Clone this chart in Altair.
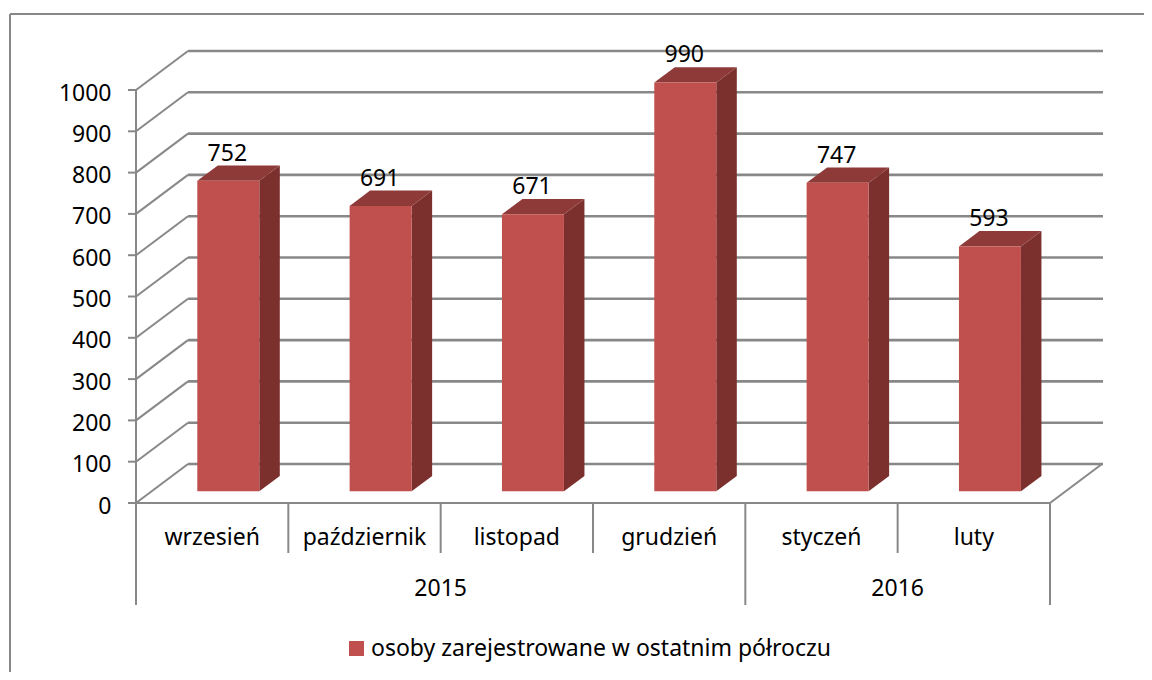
import altair as alt
import pandas as pd

months = ["wrzesień", "październik", "listopad", "grudzień", "styczeń", "luty"]
values = [752, 691, 671, 990, 747, 593]
years = ["2015", "2016"]
year_spans = [(0, 4), (4, 6)]
ticks = list(range(0, 1001, 100))
series_name = "osoby zarejestrowane w ostatnim półroczu"

FONT = "Noto Sans"
FS = 23
GRID = "#888888"
FRONT = "#C0504D"
TOP = "#8E3A38"
SIDE = "#7B302E"

# Geometry in data units: one category = 1 on x, one value unit on y
PX_X = 152.33
PX_Y = 0.413
X0 = 136
Y0 = 503
W, H = 1136, 664
ux = lambda px: (px - X0) / PX_X
uy = lambda px: (Y0 - px) / PX_Y
x_dom = [ux(8), ux(8 + W)]
y_dom = [uy(8 + H), uy(8)]
xs = alt.Scale(domain=x_dom, nice=False, zero=False)
ys = alt.Scale(domain=y_dom, nice=False, zero=False)

wall_dx = 52 / PX_X
wall_dy = 39 / PX_Y
bar_left = 61.3 / PX_X
bar_w = 62 / PX_X
bar_base = 11.7 / PX_Y
bar_dx = 20.5 / PX_X
bar_dy = 15.3 / PX_Y
n = len(months)

# back wall grid lines
wall = pd.DataFrame([
    dict(x=wall_dx, x2=n + wall_dx + 1 / PX_X, y=t + wall_dy, y2=t + wall_dy) for t in ticks
])

# side wall, floor and axis lines
segs = []
for t in ticks:
    segs.append(dict(x=0, x2=wall_dx, y=t, y2=t + wall_dy))
segs.append(dict(x=n, x2=n + wall_dx, y=0, y2=wall_dy))
segs.append(dict(x=0, x2=n, y=0, y2=0))
segs.append(dict(x=0, x2=0, y=0, y2=1000))
for t in ticks:
    segs.append(dict(x=ux(128), x2=0, y=t, y2=t))
for i in range(1, n):
    if i != year_spans[1][0]:
        segs.append(dict(x=i, x2=i, y=0, y2=uy(553)))
for i in (0, year_spans[1][0], n):
    segs.append(dict(x=i, x2=i, y=0, y2=uy(605)))
segs_df = pd.DataFrame(segs)

frame_df = pd.DataFrame([
    dict(x=ux(10), x2=x_dom[1], y=uy(14), y2=uy(14)),
    dict(x=ux(10), x2=ux(10), y=uy(14), y2=y_dom[0]),
])

front = pd.DataFrame([
    dict(month=m, series=series_name, x=i + bar_left, x2=i + bar_left + bar_w,
         y=bar_base, y2=v + bar_base)
    for i, (m, v) in enumerate(zip(months, values))
])
side = pd.DataFrame([
    row for i, (m, v) in enumerate(zip(months, values)) for row in (
        dict(month=m, x=i + bar_left + bar_w, y=bar_base, y2=v + bar_base),
        dict(month=m, x=i + bar_left + bar_w + bar_dx, y=bar_base + bar_dy, y2=v + bar_base + bar_dy),
    )
])
top = pd.DataFrame([
    row for i, (m, v) in enumerate(zip(months, values)) for row in (
        dict(month=m, y=v + bar_base, x=i + bar_left, x2=i + bar_left + bar_w),
        dict(month=m, y=v + bar_base + bar_dy, x=i + bar_left + bar_dx, x2=i + bar_left + bar_w + bar_dx),
    )
])
labels = pd.DataFrame([
    dict(t=str(v), x=i + bar_left + bar_w / 2 - 1 / PX_X, y=v + bar_base)
    for i, v in enumerate(values)
])
month_df = pd.DataFrame([dict(t=m, x=i + 0.5, y=uy(538)) for i, m in enumerate(months)])
year_df = pd.DataFrame([dict(t=y, x=(a + b) / 2, y=uy(589)) for y, (a, b) in zip(years, year_spans)])

X = alt.X("x:Q", scale=xs, axis=None)
Y = alt.Y("y:Q", scale=ys, axis=alt.Axis(
    values=ticks, title=None, domain=False, grid=False, ticks=False,
    offset=-(X0 - 8), labelPadding=25, labelOffset=3, labelFont=FONT, labelFontSize=FS,
    labelColor="#000000", format="d"))


def rules(df, color, width=2):
    return alt.Chart(df).mark_rule(color=color, strokeWidth=width).encode(
        x=X, x2="x2:Q", y=Y, y2="y2:Q")


def texts(df, **kw):
    return alt.Chart(df).mark_text(font=FONT, fontSize=FS, color="#000000", **kw).encode(
        x=X, y=Y, text="t:N")


side_l = alt.Chart(side).mark_area(color=SIDE).encode(x=X, y=Y, y2="y2:Q", detail="month:N")
top_l = alt.Chart(top).mark_area(color=TOP, orient="horizontal").encode(
    y=Y, x=X, x2="x2:Q", detail="month:N")
front_l = alt.Chart(front).mark_rect().encode(
    x=X, x2="x2:Q", y=Y, y2="y2:Q",
    color=alt.Color("series:N", scale=alt.Scale(domain=[series_name], range=[FRONT]),
                    legend=alt.Legend(
                        orient="none", legendX=337, legendY=629, title=None,
                        symbolType="square", symbolSize=225, symbolStrokeWidth=0,
                        labelFont=FONT, labelFontSize=FS, labelColor="#000000",
                        labelOffset=3, labelLimit=600)))

chart = alt.layer(
    rules(frame_df, GRID, 2), rules(wall, GRID, 2.6), rules(segs_df, GRID, 2),
    side_l, top_l, front_l,
    texts(labels, dy=-27), texts(month_df), texts(year_df),
).resolve_scale(x="shared", y="shared").properties(
    width=W, height=H, padding=0,
    autosize=alt.AutoSizeParams(type="none"),
    background="#ffffff",
).configure_view(stroke=None)

chart.save("out.html", embed_options={"renderer": "svg", "actions": False})
